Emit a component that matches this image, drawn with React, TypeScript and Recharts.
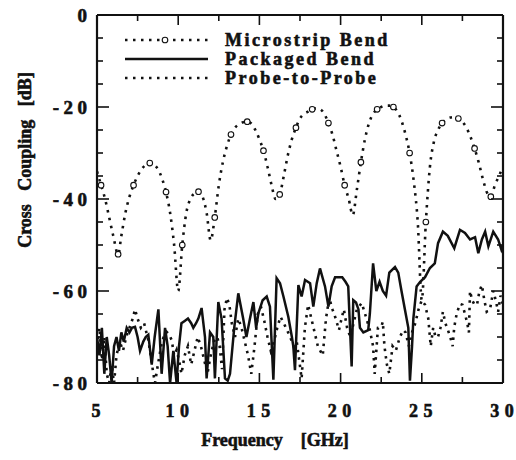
import React from 'react';
import { LineChart, Line, XAxis, YAxis, Legend, ReferenceLine } from 'recharts';

// ---------- data ----------
const microstripBend: number[][] = [
  [5.0, -34], [5.25, -37], [5.5, -40], [5.75, -44], [6.0, -48], [6.3, -52], [6.5, -48], [6.75, -43],
  [7.0, -39.5], [7.25, -37], [7.5, -35], [7.75, -33.5], [8.0, -32.6], [8.25, -32.2], [8.5, -32.5],
  [8.75, -33.5], [9.0, -35.5], [9.25, -38.5], [9.5, -43], [9.75, -50], [10.0, -60], [10.25, -50],
  [10.5, -43], [10.75, -40], [11.0, -38.8], [11.25, -38.4], [11.5, -39.5], [11.75, -43], [12.0, -49],
  [12.25, -44], [12.5, -37], [12.75, -32], [13.0, -28.5], [13.25, -26], [13.5, -24.5], [13.75, -23.7],
  [14.0, -23.3], [14.25, -23.2], [14.5, -23.6], [14.75, -25], [15.0, -27], [15.25, -29.5], [15.5, -33],
  [15.75, -37], [16.0, -40], [16.25, -39], [16.5, -35], [16.75, -30.5], [17.0, -27], [17.25, -24.5],
  [17.5, -22.5], [17.75, -21.5], [18.0, -21], [18.25, -20.5], [18.5, -20.3], [18.75, -20.5],
  [19.0, -21.5], [19.25, -23.5], [19.5, -26], [19.75, -29.5], [20.0, -33], [20.25, -37], [20.5, -40],
  [20.75, -43.5], [21.0, -38], [21.25, -32], [21.5, -27], [21.75, -23.5], [22.0, -21.5], [22.25, -20.5],
  [22.5, -20], [22.75, -19.7], [23.0, -19.7], [23.25, -20], [23.5, -21], [23.75, -23], [24.0, -26],
  [24.25, -30], [24.5, -36], [24.75, -45], [25.0, -62], [25.25, -45], [25.5, -33], [25.75, -27.5],
  [26.0, -25], [26.25, -23.5], [26.5, -22.7], [26.75, -22.3], [27.0, -22.2], [27.25, -22.5],
  [27.5, -23.2], [27.75, -24.5], [28.0, -26.5], [28.25, -29], [28.5, -32], [28.75, -35.5], [29.0, -38.5],
  [29.25, -39.5], [29.5, -37], [29.75, -35], [30.0, -33],
];

const packagedBend: number[][] = [
  [5.0, -70], [5.15, -74], [5.3, -68], [5.45, -78], [5.6, -70], [5.75, -74], [5.9, -80], [6.05, -72],
  [6.2, -70], [6.35, -73], [6.5, -69], [6.65, -71], [6.83, -68], [7.0, -69], [7.15, -68], [7.34, -67.8],
  [7.5, -70], [7.65, -73], [7.85, -71], [8.0, -70], [8.16, -69.5], [8.37, -76], [8.55, -70], [8.78, -64],
  [8.98, -78], [9.19, -68], [9.35, -72], [9.5, -80], [9.7, -73], [9.9, -80], [10.05, -72], [10.2, -67],
  [10.4, -66.5], [10.6, -66], [10.8, -67], [10.93, -68], [11.1, -67], [11.24, -66], [11.44, -63.7],
  [11.65, -70], [11.75, -79], [11.96, -69], [12.16, -70], [12.26, -79], [12.47, -62.4], [12.67, -66],
  [12.88, -79], [13.05, -79.5], [13.19, -78], [13.45, -68], [13.7, -60.5], [14.0, -66], [14.2, -70],
  [14.42, -66], [14.63, -62.4], [14.8, -68], [14.94, -64.8], [15.2, -62], [15.45, -61.2], [15.65, -63.4],
  [15.86, -79.3], [16.06, -57.2], [16.27, -58.3], [16.48, -61.2], [16.78, -65.6], [17.0, -70],
  [17.09, -72.1], [17.19, -77.2], [17.4, -58.7], [17.6, -61.2], [17.81, -57.6], [18.12, -58.3],
  [18.32, -63.4], [18.53, -58.3], [18.73, -55.1], [19.04, -59], [19.25, -63.4], [19.45, -59],
  [19.66, -57], [19.9, -57], [20.1, -57], [20.3, -58], [20.47, -59], [20.68, -76.4], [20.78, -62],
  [20.95, -62.5], [21.1, -64], [21.19, -68], [21.4, -69], [21.7, -68.5], [21.8, -65], [22.0, -54],
  [22.2, -60], [22.4, -58], [22.6, -60], [22.8, -61], [23.0, -56], [23.35, -54.8], [23.55, -56],
  [23.75, -60], [23.96, -64], [24.17, -68], [24.27, -79.5], [24.4, -72], [24.48, -66], [24.68, -59],
  [24.9, -58], [25.2, -57], [25.5, -55], [25.8, -54], [26.0, -49.6], [26.3, -47.1], [26.6, -48],
  [27.0, -50.7], [27.35, -46.7], [27.66, -47.4], [27.97, -48.8], [28.28, -48.3], [28.48, -51.8],
  [28.7, -48.8], [28.9, -47.1], [29.1, -50.3], [29.4, -47.1], [29.7, -48.8], [29.9, -51], [30.0, -50],
];

const probeToProbe: number[][] = [
  [5.0, -72], [5.15, -68], [5.3, -75], [5.45, -70], [5.6, -78], [5.75, -80], [5.9, -76], [6.05, -80],
  [6.2, -74], [6.4, -71], [6.6, -73], [6.8, -70], [7.0, -68], [7.2, -66], [7.34, -64], [7.5, -66],
  [7.7, -68], [7.9, -67], [8.16, -70.7], [8.35, -75], [8.47, -78], [8.57, -80], [8.75, -76], [8.95, -72],
  [9.1, -70], [9.29, -68.9], [9.45, -69.5], [9.6, -70.7], [9.75, -74], [9.9, -72.8], [10.05, -75],
  [10.2, -78], [10.4, -74], [10.6, -72], [10.8, -76], [11.0, -73], [11.2, -70], [11.4, -72], [11.6, -75],
  [11.8, -78], [12.0, -74], [12.2, -71], [12.4, -70], [12.55, -72], [12.7, -77], [12.85, -64],
  [13.0, -61.5], [13.15, -63], [13.3, -67], [13.5, -70], [13.7, -66], [13.9, -68], [14.1, -71],
  [14.3, -74], [14.5, -78], [14.7, -72], [14.9, -65], [15.1, -63.5], [15.3, -66.5], [15.5, -70],
  [15.7, -73], [15.9, -71], [16.1, -68], [16.3, -65.6], [16.5, -67], [16.7, -68.5], [16.9, -70],
  [17.1, -72], [17.3, -71], [17.45, -75], [17.6, -79], [17.8, -68], [18.0, -63], [18.2, -66],
  [18.4, -69], [18.6, -72], [18.9, -74], [19.1, -66], [19.3, -61.5], [19.5, -64], [19.7, -66],
  [19.9, -68.5], [20.06, -66], [20.2, -64], [20.4, -68], [20.6, -70], [20.8, -67], [21.0, -64],
  [21.3, -62.6], [21.5, -64.9], [21.8, -68.5], [22.0, -72], [22.1, -78], [22.3, -68], [22.5, -67.8],
  [22.6, -66.7], [22.7, -72], [22.85, -76], [23.0, -78], [23.2, -72], [23.4, -73], [23.65, -70],
  [23.86, -68.5], [24.0, -69], [24.2, -72], [24.4, -69], [24.6, -67], [24.8, -64], [25.0, -62],
  [25.2, -63], [25.4, -66], [25.55, -72], [25.7, -68], [25.85, -70], [26.0, -70], [26.15, -68],
  [26.3, -64.5], [26.45, -67], [26.6, -68.4], [26.75, -70], [26.9, -72], [27.0, -67.8], [27.15, -64.9],
  [27.35, -62.8], [27.5, -63], [27.66, -65], [27.8, -67], [27.9, -69], [27.97, -60], [28.1, -62],
  [28.25, -63], [28.4, -63], [28.55, -60], [28.7, -58.7], [28.85, -62], [29.0, -64.5], [29.2, -64],
  [29.4, -60], [29.55, -62], [29.7, -64.5], [29.85, -61], [30.0, -63],
];

const xTicks = [5, 7.5, 10, 12.5, 15, 17.5, 20, 22.5, 25, 27.5, 30];
const xLabelTicks = [5, 10, 15, 20, 25, 30];
const yTicks = [0, -5, -10, -15, -20, -25, -30, -35, -40, -45, -50, -55, -60, -65, -70, -75, -80];
const yLabelTicks = [0, -20, -40, -60, -80];

const seriesNames = ['Microstrip Bend', 'Packaged Bend', 'Probe-to-Probe'];

const toRows = (arr: number[][]) => arr.map(([f, db]) => ({ f, db }));
const microRows = toRows(microstripBend);
const packagedRows = toRows(packagedBend);
const probeRows = toRows(probeToProbe);

// ---------- styling / layout ----------
const FONT = '"Liberation Serif", "Times New Roman", serif';
const INK = '#111';
const W = 516;
const H = 460;
const PL = 97;   // plot left
const PR = 503;  // plot right
const PT = 15;   // plot top
const PB = 383;  // plot bottom

const heavy = { stroke: INK, strokeWidth: 0.6 };

// text whose characters are spread apart, without trailing space
function Spaced({ x, y, anchor, gap, size, str }: { x: number; y: number; anchor: 'start' | 'middle' | 'end'; gap: number; size: number; str: string }) {
  return (
    <text x={x} y={y} textAnchor={anchor} fontFamily={FONT} fontWeight="bold" fontSize={size} fill={INK} {...heavy}>
      {str.split('').map((ch, i) => (
        <tspan key={i} dx={i === 0 ? 0 : gap}>{ch}</tspan>
      ))}
    </text>
  );
}

function YTick(props: any) {
  const { y, payload } = props;
  const v = payload.value as number;
  const major = yLabelTicks.includes(v);
  const len = major ? 12 : 6;
  return (
    <g>
      <line x1={PL} x2={PL + len} y1={y} y2={y} stroke={INK} strokeWidth={1.6} />
      <line x1={PR} x2={PR - len} y1={y} y2={y} stroke={INK} strokeWidth={1.6} />
      {major && <Spaced x={87} y={y + 6.5} anchor="end" gap={4.5} size={19} str={v === 0 ? '0' : String(v)} />}
    </g>
  );
}

function XTick(props: any) {
  const { x, payload } = props;
  const v = payload.value as number;
  const major = xLabelTicks.includes(v);
  const len = major ? 10 : 6;
  return (
    <g>
      <line x1={x} x2={x} y1={PB} y2={PB - len} stroke={INK} strokeWidth={1.6} />
      <line x1={x} x2={x} y1={PT} y2={PT + len} stroke={INK} strokeWidth={1.6} />
      {major && <Spaced x={x - 1} y={417} anchor="middle" gap={5.5} size={18} str={String(v)} />}
    </g>
  );
}

function XTitle() {
  return (
    <text x={275} y={446} textAnchor="middle" fontFamily={FONT} fontWeight="bold" fontSize={18}
      fill={INK} {...heavy} xmlSpace="preserve" style={{ whiteSpace: 'pre' }}>
      {'Frequency    [GHz]'}
    </text>
  );
}

function YTitle() {
  return (
    <text x={0} y={0} transform="translate(31,160) rotate(-90)" textAnchor="middle" fontFamily={FONT}
      fontWeight="bold" fontSize={18} fill={INK} {...heavy} xmlSpace="preserve" style={{ whiteSpace: 'pre' }}>
      {'Cross   Coupling   [dB]'}
    </text>
  );
}

function microDot(props: any) {
  const { cx, cy, index } = props;
  if (index % 4 !== 1 || cx == null || cy == null) return <g key={`d${index}`} />;
  return <circle key={`d${index}`} cx={cx} cy={cy} r={2.8} fill="#fff" stroke={INK} strokeWidth={1.1} />;
}

function LegendBox() {
  const rows = [14, 33, 52];
  const textStyle = { fontFamily: FONT, fontWeight: 'bold' as const, fontSize: 18, letterSpacing: 2.5 };
  return (
    <svg width={300} height={66} style={{ display: 'block', overflow: 'visible' }}>
      <line x1={10} x2={93} y1={rows[0]} y2={rows[0]} stroke={INK} strokeWidth={2.6} strokeDasharray="2.5 5.5" />
      <circle cx={50} cy={rows[0]} r={2.8} fill="#fff" stroke={INK} strokeWidth={1.1} />
      <text x={110} y={rows[0] + 6} fill={INK} {...heavy} style={textStyle}>{seriesNames[0]}</text>
      <line x1={10} x2={93} y1={rows[1]} y2={rows[1]} stroke={INK} strokeWidth={2.6} />
      <text x={110} y={rows[1] + 6} fill={INK} {...heavy} style={textStyle}>{seriesNames[1]}</text>
      <line x1={10} x2={93} y1={rows[2]} y2={rows[2]} stroke={INK} strokeWidth={2.6} strokeDasharray="2.5 5.5" />
      <text x={110} y={rows[2] + 6} fill={INK} {...heavy} style={textStyle}>{seriesNames[2]}</text>
    </svg>
  );
}

export default function App() {
  return (
    <div style={{ position: 'absolute', left: 0, top: 0, width: W, height: H, background: '#fff' }}>
      <LineChart width={W} height={H} margin={{ top: PT, right: W - PR, bottom: 0, left: 0 }}>
        <XAxis type="number" dataKey="f" domain={[5, 30]} ticks={xTicks} interval={0}
          tick={<XTick />} tickLine={false} axisLine={false} height={H - PB} allowDataOverflow
          label={<XTitle />} />
        <YAxis type="number" dataKey="db" domain={[-80, 0]} ticks={yTicks} interval={0}
          tick={<YTick />} tickLine={false} axisLine={false} width={PL} allowDataOverflow
          label={<YTitle />} />
        <ReferenceLine x={5} stroke={INK} strokeWidth={2.2} />
        <ReferenceLine x={30} stroke={INK} strokeWidth={2.2} />
        <ReferenceLine y={0} stroke={INK} strokeWidth={2.2} />
        <ReferenceLine y={-80} stroke={INK} strokeWidth={2.2} />
        <Legend layout="vertical" align="center" verticalAlign="middle" content={<LegendBox />}
          wrapperStyle={{ position: 'absolute', left: 115, top: 26, width: 300, height: 66 }} />
        <Line data={microRows} dataKey="db" name={seriesNames[0]} type="monotone" stroke={INK}
          strokeWidth={2.6} strokeDasharray="2.5 5.5" dot={microDot} activeDot={false}
          isAnimationActive={false} />
        <Line data={packagedRows} dataKey="db" name={seriesNames[1]} type="linear" stroke={INK}
          strokeWidth={2.5} dot={false} activeDot={false} isAnimationActive={false} />
        <Line data={probeRows} dataKey="db" name={seriesNames[2]} type="linear" stroke={INK}
          strokeWidth={2.6} strokeDasharray="2.5 5" dot={false} activeDot={false}
          isAnimationActive={false} />
      </LineChart>
    </div>
  );
}
